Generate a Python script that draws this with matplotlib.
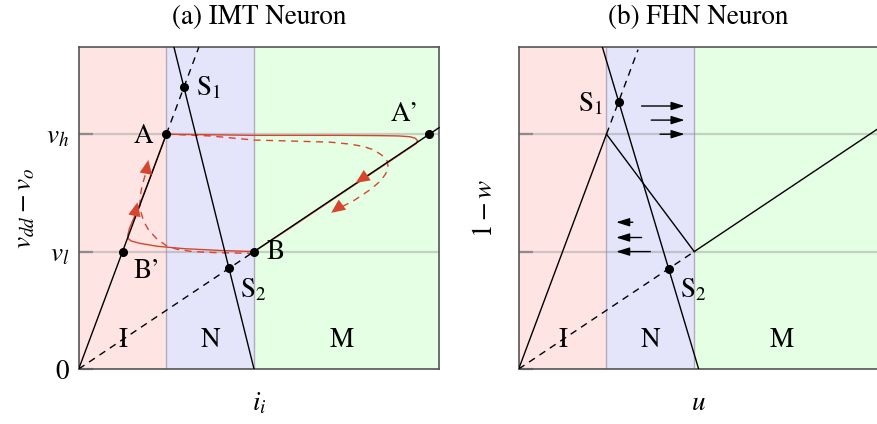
import matplotlib
matplotlib.use("Agg")
import matplotlib.pyplot as plt

plt.rcParams['font.family'] = ['STIXGeneral', 'DejaVu Serif']
plt.rcParams['mathtext.fontset'] = 'stix'

# ---------------- data ----------------
titles = ["(a) IMT Neuron", "(b) FHN Neuron"]
region_labels = ["I", "N", "M"]
region_bounds = [0.0, 1.0, 2.0, 4.11]
region_label_x = [0.5, 1.5, 3.0]
region_colors = ["#ffe4e4", "#e4e4fa", "#e4ffe4"]
y_levels = [1.0, 2.0]                      # v_l, v_h
ytick_vals = [0.0, 1.0, 2.0]
ytick_labels_a = ["0", "$v_l$", "$v_h$"]

# IMT panel curves
imt_I_solid_x = [0.0, 1.0]
imt_I_solid_y = [0.0, 2.0]
imt_I_dash_x = [1.0, 1.37]
imt_I_dash_y = [2.0, 2.74]
imt_M_dash_x = [0.0, 2.0]
imt_M_dash_y = [0.0, 1.0]
imt_M_solid_x = [2.0, 4.11]
imt_M_solid_y = [1.0, 2.055]
imt_N_x = [2.0, 1.087]
imt_N_y = [0.0, 2.74]
imt_pts_x = [1.0, 1.2, 4.0, 2.0, 0.5, 1.714]
imt_pts_y = [2.0, 2.4, 2.0, 1.0, 1.0, 0.857]
imt_pt_names = ["A", "$\\mathrm{S}_1$", "A’", "B", "B’", "$\\mathrm{S}_2$"]
imt_lbl_x = [0.74, 1.48, 3.72, 2.25, 0.78, 1.99]
imt_lbl_y = [1.98, 2.39, 2.17, 0.99, 0.83, 0.67]

# red trajectories (solid and dashed)
traj_top_x = [1.0, 1.5, 2.0, 2.5, 3.0, 3.4, 3.65, 3.78, 3.84, 3.865, 3.85, 3.6, 3.2, 2.8, 2.4, 2.0]
traj_top_y = [2.0, 1.995, 1.99, 1.99, 1.99, 1.988, 1.985, 1.978, 1.965, 1.945, 1.92, 1.795, 1.595, 1.395, 1.195, 1.0]
traj_bot_x = [2.0, 1.6, 1.2, 0.9, 0.7, 0.6, 0.565, 0.56, 0.58, 0.62, 0.7, 0.8, 0.9, 1.0]
traj_bot_y = [1.0, 1.01, 1.025, 1.045, 1.07, 1.09, 1.11, 1.14, 1.2, 1.27, 1.41, 1.6, 1.8, 2.0]
dtraj_top_x = [1.0, 1.5, 2.0, 2.5, 2.87, 3.1, 3.25, 3.37, 3.46, 3.52, 3.53, 3.5, 3.44, 3.33, 3.15, 2.95]
dtraj_top_y = [2.0, 1.985, 1.95, 1.94, 1.932, 1.915, 1.895, 1.865, 1.82, 1.77, 1.72, 1.66, 1.6, 1.53, 1.44, 1.36]
dtraj_bot_x = [2.0, 1.6, 1.3, 1.12, 1.0, 0.89, 0.8, 0.74, 0.7, 0.7, 0.72, 0.75, 0.78]
dtraj_bot_y = [0.985, 0.99, 1.0, 1.02, 1.05, 1.11, 1.18, 1.26, 1.36, 1.46, 1.55, 1.63, 1.71]
red_arrows = [  # (tail_x, tail_y, head_x, head_y)
    (3.40, 1.705, 3.16, 1.585),
    (0.62, 1.25, 0.67, 1.42),
    (3.10, 1.45, 2.88, 1.33),
    (0.755, 1.62, 0.795, 1.78),
]

# FHN panel curves
fhn_I_solid_x = [0.0, 1.0]
fhn_I_solid_y = [0.0, 2.0]
fhn_I_dash_x = [1.0, 1.36]
fhn_I_dash_y = [2.0, 2.72]
fhn_N_solid_x = [1.0, 2.0]
fhn_N_solid_y = [2.0, 1.0]
fhn_M_solid_x = [2.0, 4.11]
fhn_M_solid_y = [1.0, 2.055]
fhn_M_dash_x = [0.0, 2.0]
fhn_M_dash_y = [0.0, 1.0]
fhn_null_x = [2.05, 0.954]
fhn_null_y = [0.0, 2.74]
fhn_pts_x = [1.137, 1.707]
fhn_pts_y = [2.274, 0.854]
fhn_pt_names = ["$\\mathrm{S}_1$", "$\\mathrm{S}_2$"]
fhn_lbl_x = [0.82, 1.99]
fhn_lbl_y = [2.26, 0.67]
fhn_right_arrows = [(1.40, 2.24, 1.89), (1.51, 2.12, 1.89), (1.61, 2.0, 1.89)]
fhn_left_arrows = [(1.30, 1.25, 1.11), (1.40, 1.12, 1.11), (1.50, 1.0, 1.11)]

RED = "#d5462c"
FS = 19.5

fig = plt.figure(figsize=(8.78, 4.24), dpi=100)
axA = fig.add_axes([78.7 / 878, 1 - 369 / 424, 360.3 / 878, 321.7 / 424])
axB = fig.add_axes([518.7 / 878, 1 - 369 / 424, 359.0 / 878, 321.7 / 424])

for ax, title in zip([axA, axB], titles):
    ax.set_xlim(0, 4.11 if ax is axA else 4.09)
    ax.set_ylim(0, 2.74)
    for i in range(3):
        ax.axvspan(region_bounds[i], region_bounds[i + 1], color=region_colors[i], lw=0, zorder=0)
        ax.text(region_label_x[i], 0.24, region_labels[i], ha="center", va="center",
                fontsize=FS, zorder=1)
    for xb in [1.0, 2.0]:
        ax.axvline(xb, color="#b4aabb", lw=1.0, zorder=0.5)
    for yl in y_levels:
        ax.axhline(yl, color="#9a9a9a", alpha=0.45, lw=1.6, zorder=0.6)
    ax.set_xticks([])
    ax.set_yticks(ytick_vals)
    ax.tick_params(axis="y", direction="in", length=10, width=1.6, color="#8c8c8c", pad=7,
                   labelsize=FS)
    for s in ax.spines.values():
        s.set_color("#555555")
        s.set_linewidth(1.2)
    ax.set_title(title, fontsize=FS, pad=17)

axA.set_yticklabels(ytick_labels_a)
axB.set_yticklabels([])

LW = 1.0
dash = (0, (5, 4))
# IMT panel
axA.plot(imt_I_solid_x, imt_I_solid_y, color="k", lw=LW, zorder=3)
axA.plot(imt_I_dash_x, imt_I_dash_y, color="k", lw=LW, ls=dash, zorder=3)
axA.plot(imt_M_dash_x, imt_M_dash_y, color="k", lw=LW, ls=dash, zorder=3)
axA.plot(imt_M_solid_x, imt_M_solid_y, color="k", lw=LW, zorder=3, clip_on=False)
axA.plot(imt_N_x, imt_N_y, color="k", lw=LW, zorder=3)
axA.plot(traj_top_x, traj_top_y, color=RED, lw=1.0, zorder=2.5)
axA.plot(traj_bot_x, traj_bot_y, color=RED, lw=1.0, zorder=2.5)
axA.plot(dtraj_top_x, dtraj_top_y, color=RED, lw=1.0, ls=dash, zorder=2.5)
axA.plot(dtraj_bot_x, dtraj_bot_y, color=RED, lw=1.0, ls=dash, zorder=2.5)
for (tx, ty, hx, hy) in red_arrows:
    axA.annotate("", xy=(hx, hy), xytext=(tx, ty),
                 arrowprops=dict(arrowstyle="-|>,head_length=1.0,head_width=0.45",
                                 color=RED, lw=0, shrinkA=0, shrinkB=0), zorder=4)
axA.plot(imt_pts_x, imt_pts_y, "o", color="k", ms=5.5, zorder=5, clip_on=False)
for name, lx, ly in zip(imt_pt_names, imt_lbl_x, imt_lbl_y):
    axA.text(lx, ly, name, ha="center", va="center", fontsize=FS, zorder=6)
axA.set_ylabel("$v_{dd} - v_o$", fontsize=FS, labelpad=6)
axA.set_xlabel("$i_i$", fontsize=FS, labelpad=16)

# FHN panel
axB.plot(fhn_I_solid_x, fhn_I_solid_y, color="k", lw=LW, zorder=3)
axB.plot(fhn_I_dash_x, fhn_I_dash_y, color="k", lw=LW, ls=dash, zorder=3)
axB.plot(fhn_N_solid_x, fhn_N_solid_y, color="k", lw=LW, zorder=3)
axB.plot(fhn_M_solid_x, fhn_M_solid_y, color="k", lw=LW, zorder=3)
axB.plot(fhn_M_dash_x, fhn_M_dash_y, color="k", lw=LW, ls=dash, zorder=3)
axB.plot(fhn_null_x, fhn_null_y, color="k", lw=LW, zorder=3)
axB.plot(fhn_pts_x, fhn_pts_y, "o", color="k", ms=5.5, zorder=5)
for name, lx, ly in zip(fhn_pt_names, fhn_lbl_x, fhn_lbl_y):
    axB.text(lx, ly, name, ha="center", va="center", fontsize=FS, zorder=6)
for (x0, y0, x1) in fhn_right_arrows + fhn_left_arrows:
    axB.annotate("", xy=(x1, y0), xytext=(x0, y0),
                 arrowprops=dict(arrowstyle="-|>,head_length=0.8,head_width=0.25",
                                 color="k", lw=1.0, shrinkA=0, shrinkB=0), zorder=4)
axB.set_ylabel("$1 - w$", fontsize=FS, labelpad=8)
axB.set_xlabel("$u$", fontsize=FS, labelpad=16)

fig.savefig("out.png", dpi=100)
